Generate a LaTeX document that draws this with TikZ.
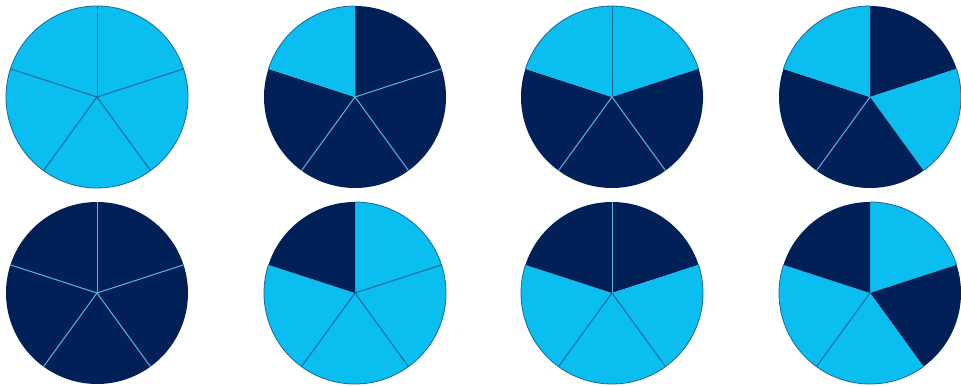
\documentclass[tikz,border=0pt]{standalone}
\usepackage{tikz}
\definecolor{pL}{HTML}{0ABEF0}
\definecolor{pD}{HTML}{022058}
\definecolor{pLline}{HTML}{1F6797}
\definecolor{pDline}{HTML}{5AB3E6}
\def\pieR{91pt}
\def\strL{L}
\newcommand\pieslice[4]{% center, start, end, L/D
  \fill[p#4] (#1) -- ++(#2:\pieR) arc[start angle=#2, end angle=#3, radius=\pieR] -- cycle;
  \def\tmpc{#4}%
  \ifx\tmpc\strL
    \draw[pLline, line width=0.8pt] (#1) ++(#2:\pieR) arc[start angle=#2, end angle=#3, radius=\pieR];
  \fi}
\newcommand\piebound[4]{% center, angle, colA, colB
  \def\tmpa{#3}\def\tmpb{#4}%
  \ifx\tmpa\tmpb
    \draw[p#3line, line width=1pt] (#1) -- ++(#2:\pieR);
  \fi}
\newcommand\pie[6]{% center, S1..S5
  \pieslice{#1}{18}{90}{#2}
  \pieslice{#1}{-54}{18}{#3}
  \pieslice{#1}{-126}{-54}{#4}
  \pieslice{#1}{-198}{-126}{#5}
  \pieslice{#1}{90}{162}{#6}
  \piebound{#1}{90}{#6}{#2}
  \piebound{#1}{18}{#2}{#3}
  \piebound{#1}{-54}{#3}{#4}
  \piebound{#1}{-126}{#4}{#5}
  \piebound{#1}{162}{#5}{#6}}
\begin{document}
\begin{tikzpicture}[x=1pt,y=1pt]
\useasboundingbox (0,0) rectangle (961,386);
\fill[white] (0,0) rectangle (961,386);
\coordinate (c1) at (97,289);
\coordinate (c2) at (355,289);
\coordinate (c3) at (612,289);
\coordinate (c4) at (870,289);
\coordinate (c5) at (97,93);
\coordinate (c6) at (355,93);
\coordinate (c7) at (612,93);
\coordinate (c8) at (870,93);
\pie{c1}{L}{L}{L}{L}{L}
\pie{c2}{D}{D}{D}{D}{L}
\pie{c3}{L}{D}{D}{D}{L}
\pie{c4}{D}{L}{D}{D}{L}
\pie{c5}{D}{D}{D}{D}{D}
\pie{c6}{L}{L}{L}{L}{D}
\pie{c7}{D}{L}{L}{L}{D}
\pie{c8}{L}{D}{L}{L}{D}
\end{tikzpicture}
\end{document}
